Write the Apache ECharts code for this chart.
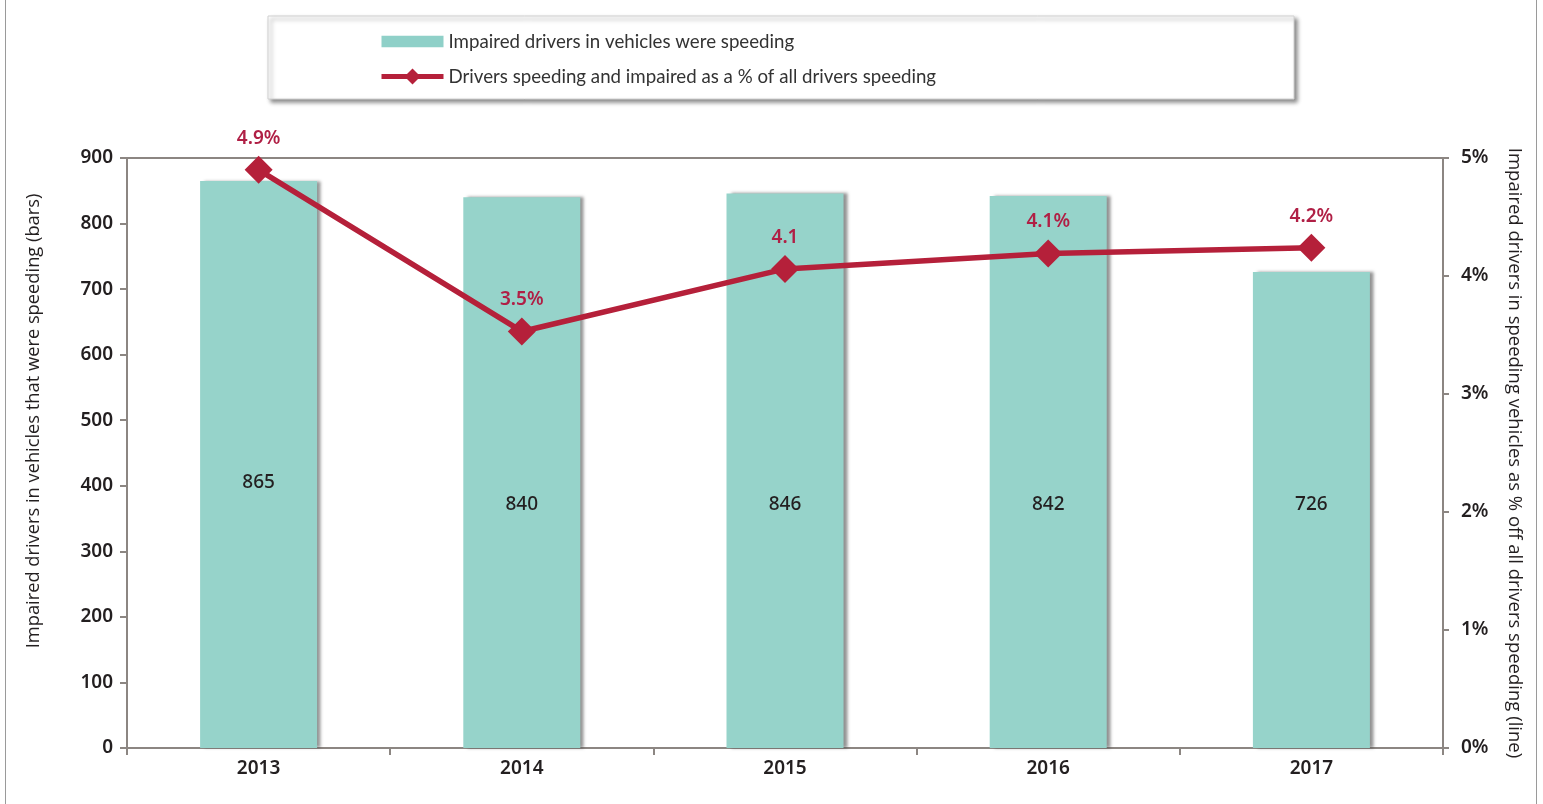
<!DOCTYPE html>
<html>
<head>
<meta charset="utf-8">
<script src="https://cdn.jsdelivr.net/npm/echarts@6/dist/echarts.min.js"></script>
<style>html,body{margin:0;padding:0;background:#fff;}#c{width:1543px;height:804px;}</style>
</head>
<body>
<div id="c"></div>
<script>
const years = ['2013', '2014', '2015', '2016', '2017'];
const impairedSpeeding = [865, 840, 846, 842, 726];
const pctSpeedingImpaired = [4.9, 3.53, 4.06, 4.19, 4.24];
const pctLabels = ['4.9%', '3.5%', '4.1', '4.1%', '4.2%'];
const leftTicks = { min: 0, max: 900, interval: 100 };
const rightTicks = { min: 0, max: 5, interval: 1 };
const barName = 'Impaired drivers in vehicles were speeding';
const lineName = 'Drivers speeding and impaired as a % of all drivers speeding';
const leftAxisName = 'Impaired drivers in vehicles that were speeding (bars)';
const rightAxisName = 'Impaired drivers in speeding vehicles as % off all drivers speeding (line)';

const axisColor = '#8c8682';
const txt = '#231f20';
const numFont = '"Noto Sans", "Open Sans", sans-serif';
const nameFont = '"Open Sans", "Noto Sans", sans-serif';
const legFont = 'Lato, "Noto Sans", sans-serif';

const chart = echarts.init(document.getElementById('c'), null, { renderer: 'canvas' });
chart.setOption({
  animation: false,
  backgroundColor: '#fff',
  graphic: [
    { type: 'line', shape: { x1: 5.5, y1: 0, x2: 5.5, y2: 804 }, style: { stroke: '#9a9a9a', lineWidth: 1 } },
    { type: 'line', shape: { x1: 1536.5, y1: 0, x2: 1536.5, y2: 804 }, style: { stroke: '#9a9a9a', lineWidth: 1 } },
    { type: 'rect', z: -1, shape: { x: 268, y: 16, width: 1026, height: 83 },
      style: { fill: '#fff', stroke: '#d0d0d0', lineWidth: 1, shadowBlur: 4, shadowColor: 'rgba(0,0,0,0.45)', shadowOffsetX: 3, shadowOffsetY: 3 } }
  ],
  legend: {
    orient: 'vertical',
    left: 374,
    top: 27,
    itemGap: 16,
    itemWidth: 62,
    itemHeight: 20,
    textStyle: { fontFamily: legFont, fontSize: 18.7, color: '#333' },
    data: [
      { name: barName, icon: 'path://M8,5 L62,5 L62,15 L8,15 Z', itemStyle: { color: '#8fd0c8' } },
      { name: lineName, lineStyle: { width: 5, color: '#b5203a' }, itemStyle: { color: '#b5203a' } }
    ]
  },
  grid: {
    left: 127, right: 100, top: 158, bottom: 56,
    show: true, borderColor: axisColor, borderWidth: 2, backgroundColor: 'transparent'
  },
  xAxis: {
    type: 'category',
    data: years,
    boundaryGap: true,
    axisLine: { lineStyle: { color: axisColor, width: 2 } },
    axisTick: { show: true, length: 7, lineStyle: { color: axisColor, width: 2 } },
    axisLabel: { color: txt, fontFamily: numFont, fontSize: 19, fontWeight: 600, margin: 11 }
  },
  yAxis: [
    {
      type: 'value', position: 'left',
      min: leftTicks.min, max: leftTicks.max, interval: leftTicks.interval,
      name: leftAxisName, nameLocation: 'middle', nameRotate: 90, nameGap: 84,
      nameTextStyle: { color: txt, fontFamily: nameFont, fontSize: 18.3, padding: [0, 0, 0, 64] },
      axisLine: { show: true, lineStyle: { color: axisColor, width: 2 } },
      axisTick: { show: true, length: 7, lineStyle: { color: axisColor, width: 2 } },
      splitLine: { show: false },
      axisLabel: { color: txt, fontFamily: numFont, fontSize: 19, fontWeight: 600, margin: 14 }
    },
    {
      type: 'value', position: 'right',
      min: rightTicks.min, max: rightTicks.max, interval: rightTicks.interval,
      name: rightAxisName, nameLocation: 'middle', nameRotate: -90, nameGap: 62,
      nameTextStyle: { color: txt, fontFamily: nameFont, fontSize: 18.5 },
      axisLine: { show: true, lineStyle: { color: axisColor, width: 2 } },
      axisTick: { show: true, length: 6, lineStyle: { color: axisColor, width: 2 } },
      splitLine: { show: false },
      axisLabel: { color: txt, fontFamily: numFont, fontSize: 19, fontWeight: 600, margin: 18, formatter: '{value}%' }
    }
  ],
  series: [
    {
      name: barName,
      type: 'bar',
      yAxisIndex: 0,
      barWidth: 117,
      data: impairedSpeeding.map((v, i) => ({
        value: v,
        label: { distance: i === 0 ? 256 : 234 }
      })),
      itemStyle: {
        color: '#96d3ca',
        shadowColor: 'rgba(60,60,60,0.55)', shadowBlur: 3, shadowOffsetX: 4, shadowOffsetY: 0
      },
      label: {
        show: true, position: 'insideBottom',
        color: txt, fontFamily: numFont, fontSize: 19, fontWeight: 500
      },
      z: 2
    },
    {
      name: lineName,
      type: 'line',
      yAxisIndex: 1,
      data: pctSpeedingImpaired,
      symbol: 'diamond',
      symbolSize: 28,
      lineStyle: { color: '#b5203a', width: 5.5 },
      itemStyle: { color: '#b5203a' },
      label: {
        show: true, position: 'top', distance: 8,
        color: '#b01f45', fontFamily: numFont, fontSize: 19, fontWeight: 600,
        formatter: p => pctLabels[p.dataIndex]
      },
      z: 5
    }
  ]
});
</script>
</body>
</html>
